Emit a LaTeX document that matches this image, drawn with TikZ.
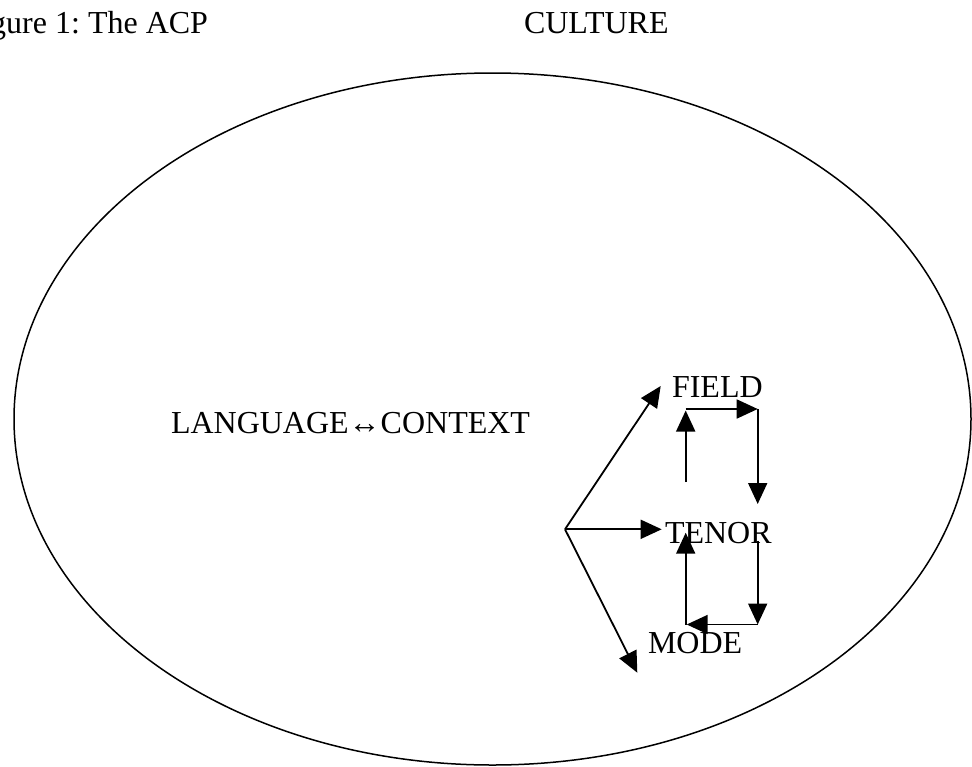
\documentclass[tikz,border=0pt]{standalone}
\usepackage{fontspec}
\setmainfont{Liberation Serif}
\usetikzlibrary{arrows.meta}
\frenchspacing
\begin{document}
\begin{tikzpicture}[x=1pt,y=-1pt,
  lbl/.style={inner sep=0pt,outer sep=0pt,font=\fontsize{32}{36}\selectfont},
  arr/.style={-{Triangle[length=21pt,width=19pt]},line width=1.8pt},
  seg/.style={line width=1.8pt}]
\useasboundingbox (0,0) rectangle (972,766);
% ellipse
\draw[line width=1.5pt] (492.5,419) ellipse [x radius=478.5pt, y radius=346pt];
% texts
\node[lbl,anchor=base east] (fig) at (208,33) {Figure 1: The ACP};
\node[lbl,anchor=base west] (cult) at (524,33) {CULTURE};
\node[lbl,anchor=base west] (lang) at (171,433) {LANGUAGE↔CONTEXT};
\node[lbl,anchor=base west] (field) at (672,397) {FIELD};
\node[lbl,anchor=base west] (tenor) at (665,543) {TENOR};
\node[lbl,anchor=base west] (mode) at (648,653) {MODE};
% coordinates
\coordinate (o) at (565,529.3);
\coordinate (tf) at (660.7,386);
\coordinate (tt) at (661.7,529.3);
\coordinate (tm) at (637.3,672.7);
\coordinate (ua) at (685.7,482);
\coordinate (ub) at (685.7,410.5);
\coordinate (uc) at (685.7,409);
\coordinate (ud) at (757.7,409);
\coordinate (ue) at (757.7,504);
\coordinate (la) at (757.7,540.7);
\coordinate (lb) at (757.7,624.5);
\coordinate (lc) at (686.7,624.5);
\coordinate (ld) at (685.7,624.5);
\coordinate (le) at (685.7,532.7);
% fan arrows
\draw[arr] (o) -- (tf);
\draw[arr] (o) -- (tt);
\draw[arr] (o) -- (tm);
% upper loop
\draw[arr] (ua) -- (ub);
\draw[arr] (uc) -- (ud);
\draw[arr] (ud) -- (ue);
% lower loop
\draw[arr] (la) -- (lb);
\draw[arr] (lb) -- (lc);
\draw[arr] (ld) -- (le);
\end{tikzpicture}
\end{document}
